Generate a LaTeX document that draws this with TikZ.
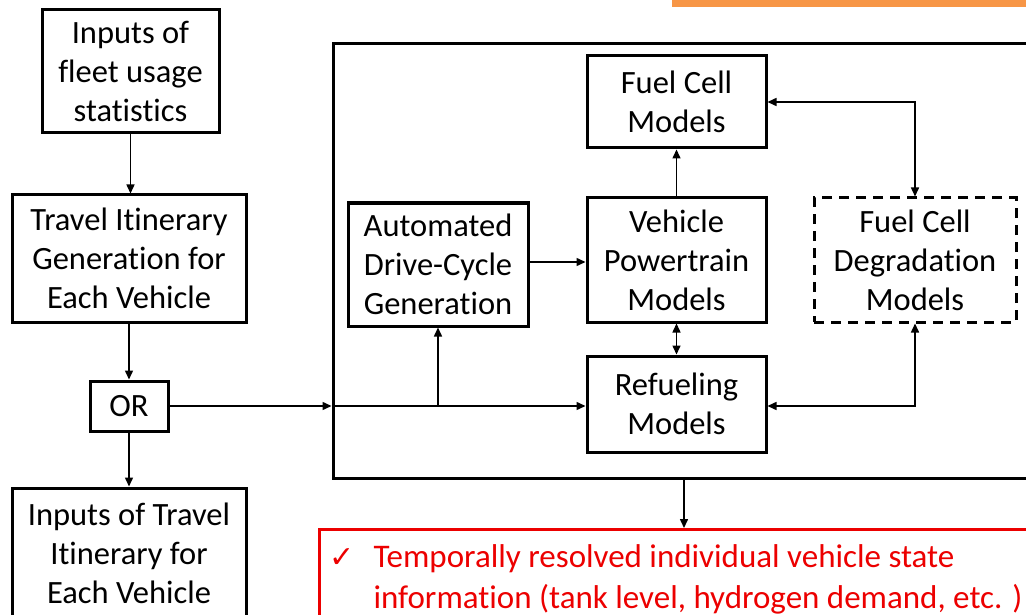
\documentclass[tikz,border=0pt]{standalone}
\usepackage{fontspec}
\setmainfont[Ligatures={NoCommon}]{Carlito}
\newfontfamily\dejavu{DejaVu Sans}
\usetikzlibrary{arrows.meta}
\definecolor{barorange}{RGB}{247,150,70}
\definecolor{outred}{RGB}{236,0,0}
\tikzset{
  box/.style={draw=black, line width=3pt, align=center, inner sep=0pt,
    font=\fontsize{32.5}{39}\selectfont},
  dbox/.style={box, dash pattern=on 10pt off 7pt},
  arr/.style={line width=1.5pt, -{Triangle[length=9pt,width=8pt]}},
  darr/.style={line width=1.5pt, {Triangle[length=9pt,width=8pt]}-{Triangle[length=9pt,width=8pt]}},
}
\begin{document}
\begin{tikzpicture}[x=1pt,y=-1pt]
\useasboundingbox (0,0) rectangle (1026,615);
\clip (0,0) rectangle (1026,615);
\fill[barorange] (672,0) rectangle (1030,7);
% frame
\node[box, minimum width=707pt, minimum height=434pt] (frame) at (686.5,261) {};
% left column
\node[box, minimum width=177pt, minimum height=123pt] (fleet) at (130.5,71.5) {Inputs of\\fleet usage\\statistics};
\node[box, minimum width=234pt, minimum height=127pt] (travel) at (129,258.5) {Travel Itinerary\\Generation for\\Each Vehicle};
\node[box, minimum width=78pt, minimum height=50pt] (or) at (129,406) {OR};
\node[box, minimum width=234pt, minimum height=130pt] (inputs) at (129,553) {Inputs of Travel\\Itinerary for\\Each Vehicle};
% inside frame
\node[box, minimum width=180pt, minimum height=123pt] (auto) at (438,264.5) {Automated\\Drive-Cycle\\Generation};
\node[box, minimum width=179pt, minimum height=92pt] (fcm) at (676.5,102) {Fuel Cell\\Models};
\node[box, minimum width=179pt, minimum height=124pt] (vp) at (676.5,260) {Vehicle\\Powertrain\\Models};
\node[box, minimum width=179pt, minimum height=96pt] (ref) at (676.5,404) {Refueling\\Models};
\node[dbox, minimum width=202pt, minimum height=124pt] (deg) at (915,260) {Fuel Cell\\Degradation\\Models};
% output
\node[draw=outred, line width=3pt, anchor=north west, minimum height=100pt,
  text width=700pt, align=flush left, inner xsep=10pt, inner ysep=0pt, text=outred,
  font=\fontsize{33}{41}\selectfont] (out) at (318,528)
  {\makebox[44pt][l]{\dejavu\fontsize{30}{41}\selectfont ✓}Temporally resolved individual vehicle state\\
   \hspace*{44pt}information (tank level, hydrogen demand, etc. )};
% connectors
\draw[arr] (fleet.south) -- (fleet.south |- travel.north);
\draw[arr] (travel.south) -- (or.north);
\draw[arr] (or.south) -- (inputs.north);
\coordinate (fin) at (frame.west |- or.east);
\draw[arr] (or.east) -- (fin);
\draw[arr] (fin) -- (ref.west |- or.east);
\coordinate (br) at (auto.south |- or.east);
\draw[arr] (br) -- (auto.south);
\draw[arr] (auto.east |- 0,262) -- (vp.west |- 0,262);
\draw[arr] (vp.north) -- (fcm.south);
\draw[darr] (vp.south) -- (ref.north);
\draw[darr] (fcm.east) -- (deg.north |- fcm.east) -- (deg.north);
\draw[darr] (ref.east |- or.east) -- (deg.south |- or.east) -- (deg.south);
\coordinate (fo) at (684,478);
\draw[arr] (fo) -- (fo |- out.north);
\end{tikzpicture}
\end{document}
